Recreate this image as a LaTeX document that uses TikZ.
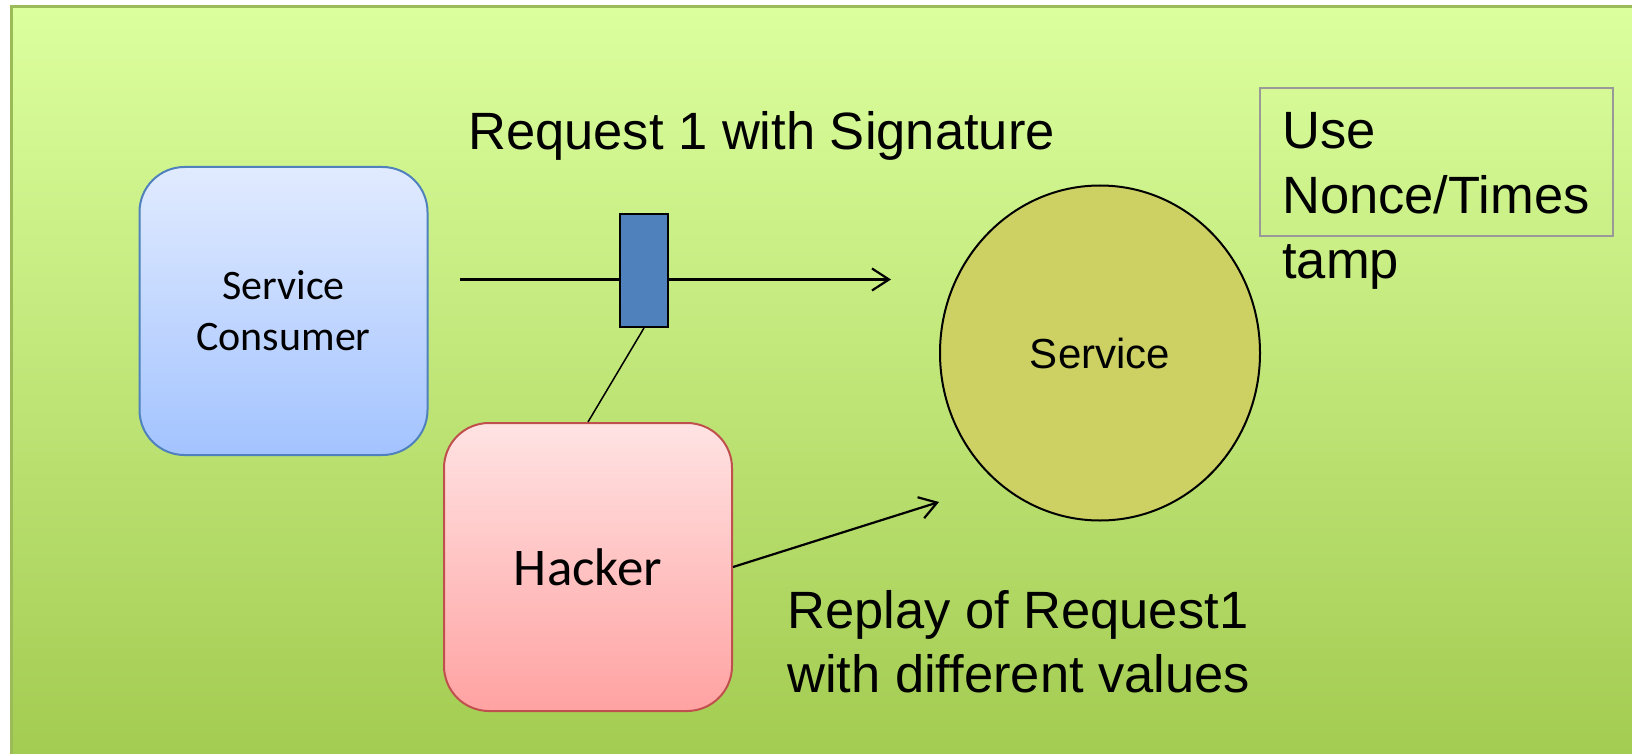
\documentclass[tikz,border=0pt]{standalone}
\usepackage{fontspec}
\setmainfont{Liberation Sans}
\newfontfamily\calibri{Carlito}
\usetikzlibrary{shapes.geometric,arrows.meta}

\definecolor{bgtop}{HTML}{DCFF9E}
\definecolor{bgbot}{HTML}{A2CB50}
\definecolor{bgborder}{HTML}{9BBB59}
\definecolor{consumertop}{HTML}{E1EBFF}
\definecolor{consumerbot}{HTML}{A3C3FF}
\definecolor{consumerborder}{HTML}{4F81BD}
\definecolor{hackertop}{HTML}{FFE3E3}
\definecolor{hackerbot}{HTML}{FFA2A2}
\definecolor{hackerborder}{HTML}{C0504D}
\definecolor{sigfill}{HTML}{4F81BD}
\definecolor{servicefill}{HTML}{CDD163}
\definecolor{noteborder}{HTML}{999999}

\begin{document}
\begin{tikzpicture}[x=1pt,y=-1pt,
  actorbox/.style={rectangle, rounded corners=45pt, minimum width=288pt,
    minimum height=288pt, line width=2pt, align=center, inner sep=0pt},
  labeltext/.style={inner sep=0pt, font=\fontsize{52.5}{65}\selectfont},
  flow/.style={line width=2.2pt, -{Straight Barb[length=17pt,width=22pt]}},
]
\useasboundingbox (0,0) rectangle (1632,754);
\clip (0,0) rectangle (1632,754);
\fill[white] (0,0) rectangle (1632,754);
% slide panel with vertical gradient
\draw[line width=3pt, draw=bgborder, top color=bgtop, bottom color=bgbot]
  (11,7) rectangle (1650,770);

% parties
\node[actorbox, draw=consumerborder, top color=consumertop, bottom color=consumerbot,
  font=\calibri\fontsize{42}{51}\selectfont] (consumer) at (283.5,311) {Service\\Consumer};
\node[actorbox, draw=hackerborder, top color=hackertop, bottom color=hackerbot,
  font=\calibri\fontsize{53}{62}\selectfont] (hacker) at (588,567) {Hacker};
\node[ellipse, draw=black, line width=2pt, fill=servicefill, minimum width=320pt,
  minimum height=335pt, font=\fontsize{42}{50}\selectfont] (service) at (1100,353) {Service};

% note box with overflowing text (anchored at the baseline of its last line)
\node[rectangle, draw=noteborder, line width=2pt, minimum width=352.7pt,
  minimum height=148.3pt, inner sep=0pt] (note) at (1436.35,161.85) {};
\node[labeltext, anchor=base west, align=left] (notetext) at (1282,278) {Use\\Nonce/Times\\tamp};

% labels
\node[labeltext, anchor=base] (reqlabel) at (761.5,150) {Request 1 with Signature};
\node[labeltext, anchor=base west, align=left, font=\fontsize{52.5}{64}\selectfont]
  (replaylabel) at (787,692) {Replay of Request1\\with different values};

% request with signature
\coordinate (reqstart) at (460,279.5);
\coordinate (reqend) at (891,279.5);
\draw[flow] (reqstart) -- (reqend);
\node[rectangle, draw=black, line width=2pt, fill=sigfill, minimum width=48pt,
  minimum height=113pt, inner sep=0pt] (sig) at (644,270.5) {};

% interception and replay
\draw[line width=1.5pt] (sig.south) -- (hacker.north);
\coordinate (replayend) at (939,502);
\draw[flow] (hacker.east) -- (replayend);
\end{tikzpicture}
\end{document}
